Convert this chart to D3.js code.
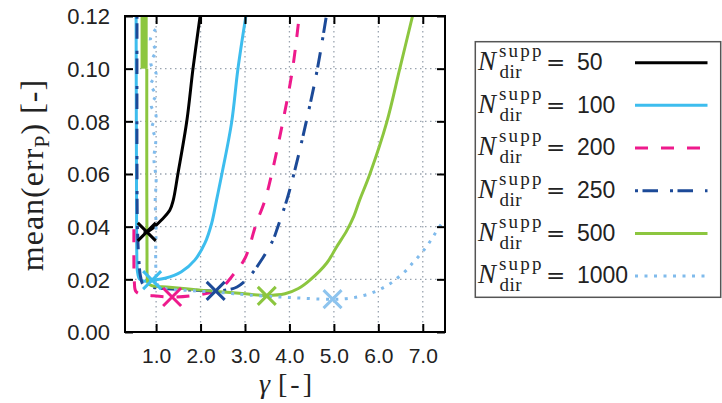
<!DOCTYPE html>
<html><head><meta charset="utf-8">
<script src="https://cdn.jsdelivr.net/npm/d3@7"></script>
<style>
body{margin:0;background:#fff;}
svg{display:block;}
</style></head>
<body>
<svg id="c" width="722" height="403"></svg>
<script>
// ---- data (gamma, mean err) ----
const xTickValues = [1, 2, 3, 4, 5, 6, 7];
const yTickValues = [0, 0.02, 0.04, 0.06, 0.08, 0.10, 0.12];
const legendLabels = ["50", "100", "200", "250", "500", "1000"];
const seriesColors = ["#000000", "#3dbdee", "#ee1a8c", "#1c4a98", "#8cc63f", "#80bbec"];
const markerColors = ["#000000", "#3dbdee", "#ee1a8c", "#1c4a98", "#8cc63f", "#8ec4ee"];

const n50 = [[0.72,0.0376],[0.79,0.0380],[0.93,0.0395],[1.12,0.0425],[1.31,0.0463],[1.385,0.0500],[1.49,0.0600],[1.69,0.0800],[1.83,0.1000],[1.99,0.1200]];
const n100 = [[0.55,0.1200],[0.555,0.0800],[0.56,0.0500],[0.565,0.0300],[0.58,0.0230],[0.63,0.0200],[0.75,0.0193],[0.91,0.0197],[1.2,0.0204],[1.57,0.0229],[1.87,0.0273],[2.10,0.0338],[2.25,0.0413],[2.36,0.0501],[2.48,0.0600],[2.70,0.0797],[2.84,0.0998],[3.02,0.1200]];
const n200 = [[0.50,0.0390],[0.50,0.0260],[0.51,0.0190],[0.54,0.0155],[0.65,0.0143],[0.90,0.0138],[1.36,0.0133],[1.80,0.0138],[2.28,0.0153],[2.50,0.0172],[2.70,0.0210],[3.00,0.0280],[3.25,0.0410],[3.45,0.0501],[3.60,0.0600],[3.85,0.0797],[4.07,0.0998],[4.22,0.1200]];
const n250 = [[0.57,0.1200],[0.57,0.0600],[0.58,0.0400],[0.61,0.0280],[0.65,0.0210],[0.72,0.0178],[1.00,0.0168],[1.70,0.0160],[2.34,0.0156],[2.60,0.0160],[2.82,0.0171],[3.09,0.0209],[3.40,0.0281],[3.63,0.0349],[3.74,0.0400],[3.94,0.0501],[4.10,0.0600],[4.38,0.0800],[4.63,0.1000],[4.83,0.1200]];
const n500Band = [[0.65,0.81,0.1200],[0.65,0.81,0.1000]];
const n500 = [[0.79,0.1000],[0.79,0.0600],[0.795,0.0300],[0.80,0.0210],[0.82,0.0185],[0.90,0.0176],[1.30,0.0170],[2.00,0.0159],[2.50,0.0152],[3.00,0.0145],[3.49,0.0139],[3.90,0.0145],[4.20,0.0165],[4.46,0.0197],[4.84,0.0262],[5.06,0.0323],[5.29,0.0385],[5.45,0.0440],[5.58,0.0501],[5.81,0.0600],[6.19,0.0797],[6.48,0.0998],[6.77,0.1200]];
const n1000 = [[0.99,0.115],[0.87,0.111],[0.99,0.107],[0.88,0.102],[1.00,0.098],[0.88,0.094],[0.99,0.090],[0.89,0.086],[1.00,0.082],[0.91,0.078],[0.99,0.073],[0.95,0.066],[1.00,0.058],[0.98,0.050],[1.00,0.040],[0.99,0.030],[1.00,0.022],[1.03,0.018],[1.20,0.0165],[1.80,0.0157],[2.59,0.0148],[3.11,0.0140],[3.78,0.0133],[4.23,0.0129],[4.68,0.0125],[4.97,0.0124],[5.18,0.0125],[5.40,0.0129],[5.63,0.0137],[5.85,0.0148],[6.05,0.0163],[6.25,0.0182],[6.43,0.0205],[6.61,0.0231],[6.77,0.0262],[6.91,0.0288],[7.06,0.0319],[7.20,0.0353],[7.31,0.0383],[7.44,0.0414],[7.50,0.0425]];
const markerGamma = [0.79, 0.91, 1.36, 2.34, 3.49, 4.97];
const markerErr = [0.0380, 0.0197, 0.0133, 0.0156, 0.0137, 0.0125];

// ---- layout ----
const L = 125, R = 445, T = 16, B = 332;
const x = d3.scaleLinear().domain([0.3, 7.5]).range([L, R]);
const y = d3.scaleLinear().domain([0, 0.12]).range([B, T]);
const svg = d3.select("#c");
const sans = "'Liberation Sans', Arial, sans-serif";
const serif = "'Liberation Serif', 'Times New Roman', serif";

svg.append("defs").append("clipPath").attr("id","clip")
  .append("rect").attr("x",L).attr("y",T).attr("width",R-L).attr("height",B-T);

// grid
const grid = svg.append("g").attr("stroke","#9aa4b0").attr("stroke-width",1.3).attr("stroke-dasharray","1.5,3.5");
grid.selectAll(".gx").data(xTickValues).join("line")
  .attr("x1",d=>x(d)).attr("x2",d=>x(d)).attr("y1",T).attr("y2",B);
grid.selectAll(".gy").data(yTickValues.filter(d=>d>0 && d<0.12)).join("line")
  .attr("x1",L).attr("x2",R).attr("y1",d=>y(d)).attr("y2",d=>y(d));

// curves
const line = d3.line().x(d=>x(d[0])).y(d=>y(d[1])).curve(d3.curveCatmullRom.alpha(0.5));
const plot = svg.append("g").attr("clip-path","url(#clip)").attr("fill","none");
const styles = [
  {data:n50, dash:null},
  {data:n100, dash:null},
  {data:n200, dash:"13,13"},
  {data:n250, dash:"3,4.5,15.5,12"},
  {data:n500, dash:null},
  {data:n1000, dash:"3,6.5"}
];
plot.append("path").datum(n500Band)
  .attr("d", d3.area().x0(d=>x(d[0])).x1(d=>x(d[1])).y(d=>y(d[2])))
  .attr("fill", seriesColors[4]).attr("stroke","none");
styles.forEach((s,i)=>{
  plot.append("path").datum(s.data).attr("d",line)
    .attr("stroke",seriesColors[i]).attr("stroke-width",3)
    .attr("stroke-dasharray",s.dash);
});

// markers
const mk = svg.append("g").attr("stroke-width",3).attr("fill","none");
markerGamma.forEach((g,i)=>{
  const cx = x(g), cy = y(markerErr[i]), r = 9;
  mk.append("path").attr("d",`M${cx-r},${cy-r}L${cx+r},${cy+r}M${cx-r},${cy+r}L${cx+r},${cy-r}`)
    .attr("stroke",markerColors[i]);
});

// axes
const ax = svg.append("g");
const xb = d3.axisBottom(x).tickValues(xTickValues).tickSize(-8).tickPadding(16).tickFormat(d3.format(".1f"));
const yl = d3.axisLeft(y).tickValues(yTickValues).tickSize(-8).tickPadding(15).tickFormat(d3.format(".2f"));
const xt = d3.axisTop(x).tickValues(xTickValues).tickSize(-8).tickFormat("");
const yr = d3.axisRight(y).tickValues(yTickValues).tickSize(-8).tickFormat("");
function style(g){ g.select(".domain").remove(); g.selectAll(".tick line").attr("stroke","#000").attr("stroke-width",2);
  g.selectAll("text").attr("font-family",sans).attr("fill","#222"); }
ax.append("g").attr("transform",`translate(0,${B})`).call(xb).call(style).selectAll("text").attr("font-size",21);
ax.append("g").attr("transform",`translate(${L},0)`).call(yl).call(style).selectAll("text").attr("font-size",22).attr("dy","0.36em");
ax.append("g").attr("transform",`translate(0,${T})`).call(xt).call(style);
ax.append("g").attr("transform",`translate(${R},0)`).call(yr).call(style);
svg.append("rect").attr("x",L).attr("y",T).attr("width",R-L).attr("height",B-T)
  .attr("fill","none").attr("stroke","#000").attr("stroke-width",2);

// axis labels
const xl = svg.append("text").attr("y",393).attr("font-family",serif).attr("font-size",28).attr("fill","#222");
xl.append("tspan").attr("x",259).attr("font-style","italic").text("γ");
xl.append("tspan").attr("x",278).attr("textLength",34).attr("lengthAdjust","spacing").text("[-]");
const yt = svg.append("text").attr("transform","translate(43,175) rotate(-90)")
  .attr("text-anchor","middle").attr("font-family",serif).attr("font-size",32)
  .attr("letter-spacing",1).attr("fill","#222");
yt.append("tspan").text("mean(err");
yt.append("tspan").attr("font-size",22).attr("dy",6).text("P");
yt.append("tspan").attr("dy",-6).text(") [-]");

// legend
svg.append("rect").attr("x",475.3).attr("y",41.7).attr("width",245.4).attr("height",255.6)
  .attr("fill","#fff").attr("stroke","#555").attr("stroke-width",1.5);
legendLabels.forEach((lab,i)=>{
  const by = 70 + i*42.67;
  const t = svg.append("text").attr("fill","#222").attr("font-family",serif).attr("y",by);
  t.append("tspan").attr("x",478).attr("y",by).attr("font-style","italic").attr("font-size",27).text("N");
  t.append("tspan").attr("x",499).attr("y",by-13).attr("font-size",19).attr("letter-spacing",2.2).text("supp");
  t.append("tspan").attr("x",499.5).attr("y",by+8).attr("font-size",19).attr("letter-spacing",0.5).text("dir");
  t.append("tspan").attr("x",546).attr("y",by).attr("font-family","'DejaVu Serif', serif").attr("font-size",23).text("=");
  t.append("tspan").attr("x",577).attr("y",by).attr("font-family",sans).attr("font-size",23).text(lab);
  svg.append("line").attr("x1",635).attr("x2",707.5).attr("y1",by-7.3).attr("y2",by-7.3)
    .attr("stroke",seriesColors[i]).attr("stroke-width",3).attr("stroke-dasharray",styles[i].dash);
});
</script>
</body></html>
